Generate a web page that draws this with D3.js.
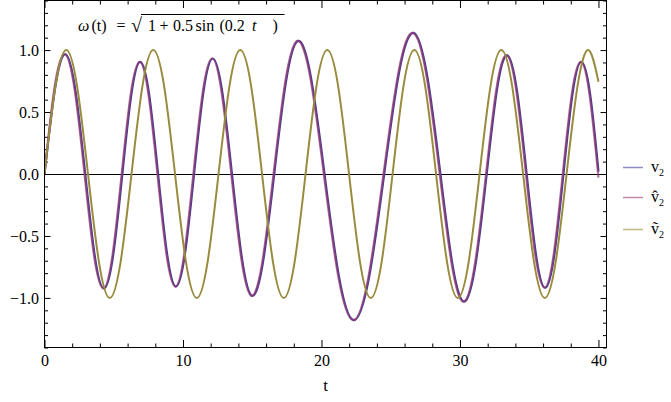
<!DOCTYPE html>
<html><head><meta charset="utf-8">
<script src="https://d3js.org/d3.v7.min.js"></script>
<style>
body{margin:0;background:#fff}
svg{display:block}
text{font-family:"Liberation Serif","DejaVu Serif","Noto Serif","Times New Roman",Times,serif;fill:#000}
</style></head>
<body><svg id="c" width="671" height="402"></svg>
<script>
// ---- data ----
const v2T = [0, 0.767, 1.510, 2.235, 2.941, 3.626, 4.302, 4.968, 5.622, 6.273, 6.918, 7.561, 8.203, 8.846, 9.492, 10.142, 10.799, 11.465, 12.140, 12.830, 13.537, 14.261, 15.003, 15.781, 16.588, 17.429, 18.311, 19.240, 20.220, 21.251, 22.325, 23.425, 24.529, 25.611, 26.653, 27.645, 28.587, 29.480, 30.332, 31.148, 31.931, 32.681, 33.410, 34.122, 34.815, 35.493, 36.162, 36.820, 37.472, 38.119, 38.762, 39.405, 40];
const v2V = [0, 0.694, 0.966, 0.673, 0, -0.658, -0.923, -0.648, 0, 0.642, 0.905, 0.639, 0, -0.640, -0.908, -0.645, 0, 0.653, 0.932, 0.666, 0, -0.684, -0.983, -0.708, 0, 0.740, 1.074, 0.780, 0, -0.820, -1.179, -0.840, 0, 0.824, 1.139, 0.785, 0, -0.745, -1.029, -0.712, 0, 0.687, 0.957, 0.668, 0, -0.655, -0.918, -0.646, 0, 0.640, 0.904, 0.639, 0.02];
const vHatT = [0, 0.717, 1.460, 2.185, 2.891, 3.576, 4.252, 4.918, 5.572, 6.223, 6.868, 7.511, 8.153, 8.796, 9.442, 10.092, 10.749, 11.415, 12.090, 12.780, 13.487, 14.211, 14.953, 15.731, 16.538, 17.379, 18.261, 19.190, 20.170, 21.201, 22.275, 23.375, 24.479, 25.561, 26.603, 27.595, 28.537, 29.430, 30.282, 31.098, 31.881, 32.631, 33.360, 34.072, 34.765, 35.443, 36.112, 36.770, 37.422, 38.069, 38.712, 39.355, 40];
const vHatV = [0, 0.694, 0.966, 0.673, 0, -0.658, -0.923, -0.648, 0, 0.642, 0.905, 0.639, 0, -0.640, -0.908, -0.645, 0, 0.653, 0.932, 0.666, 0, -0.684, -0.983, -0.708, 0, 0.740, 1.074, 0.780, 0, -0.820, -1.179, -0.840, 0, 0.824, 1.139, 0.785, 0, -0.745, -1.029, -0.712, 0, 0.687, 0.957, 0.668, 0, -0.655, -0.918, -0.646, 0, 0.640, 0.904, 0.639, -0.03];
const vTilT = [0, 0.785, 1.571, 2.356, 3.142, 3.927, 4.712, 5.498, 6.283, 7.069, 7.854, 8.639, 9.425, 10.210, 10.996, 11.781, 12.566, 13.352, 14.137, 14.923, 15.708, 16.493, 17.279, 18.064, 18.850, 19.635, 20.420, 21.206, 21.991, 22.777, 23.562, 24.347, 25.133, 25.918, 26.704, 27.489, 28.274, 29.060, 29.845, 30.631, 31.416, 32.201, 32.987, 33.772, 34.558, 35.343, 36.128, 36.914, 37.699, 38.485, 39.270, 40];
const vTilV = [0, 0.707, 1, 0.707, 0, -0.707, -1, -0.707, 0, 0.707, 1, 0.707, 0, -0.707, -1, -0.707, 0, 0.707, 1, 0.707, 0, -0.707, -1, -0.707, 0, 0.707, 1, 0.707, 0, -0.707, -1, -0.707, 0, 0.707, 1, 0.707, 0, -0.707, -1, -0.707, 0, 0.707, 1, 0.707, 0, -0.707, -1, -0.707, 0, 0.707, 1, 0.745];
const xMajor = [0, 10, 20, 30, 40];
const yMajor = [-1.0, -0.5, 0.0, 0.5, 1.0];
const legendLabels = ["v", "v\u0302", "v\u0303"];
const seriesColors = ["#3f3d99", "#993d71", "#998b3d"];

const FONT = '"Liberation Serif","DejaVu Serif","Noto Serif","Times New Roman",Times,serif';

// ---- layout ----
const svg = d3.select("#c");
const x = d3.scaleLinear().domain([0, 40.58]).range([44.5, 606.5]);
const y = d3.scaleLinear().domain([-1.4, 1.4]).range([347.5, 0.5]);
const xMinor = d3.range(0, 40.6, 2).filter(v => v % 10 !== 0);
const yMinor = d3.range(-14, 15).map(v => v / 10).filter(v => Math.abs(v * 10) % 5 !== 0);
const fmt = d3.format(".1f");

function styleAxis(g){
  g.attr("font-family", FONT);
  g.select(".domain").remove();
  g.selectAll("line").attr("stroke","#000");
  g.selectAll("text").attr("font-size",16).attr("fill","#000").style("font-family", FONT);
}

// bottom
svg.append("g").attr("transform","translate(0,347.5)")
  .call(d3.axisBottom(x).tickValues(xMajor).tickSize(-7.5).tickPadding(7.5).tickFormat(d3.format("d"))).call(styleAxis);
svg.append("g").attr("transform","translate(0,347.5)")
  .call(d3.axisBottom(x).tickValues(xMinor).tickSize(-4).tickFormat("")).call(styleAxis);
// top
svg.append("g").attr("transform","translate(0,0.5)")
  .call(d3.axisTop(x).tickValues(xMajor).tickSize(-7.5).tickFormat("")).call(styleAxis);
svg.append("g").attr("transform","translate(0,0.5)")
  .call(d3.axisTop(x).tickValues(xMinor).tickSize(-4).tickFormat("")).call(styleAxis);
// left
svg.append("g").attr("transform","translate(44.5,0)")
  .call(d3.axisLeft(y).tickValues(yMajor).tickSize(-6).tickPadding(5.5).tickFormat(fmt)).call(styleAxis);
svg.append("g").attr("transform","translate(44.5,0)")
  .call(d3.axisLeft(y).tickValues(yMinor).tickSize(-3.5).tickFormat("")).call(styleAxis);
// right
svg.append("g").attr("transform","translate(606.5,0)")
  .call(d3.axisRight(y).tickValues(yMajor).tickSize(-6).tickFormat("")).call(styleAxis);
svg.append("g").attr("transform","translate(606.5,0)")
  .call(d3.axisRight(y).tickValues(yMinor).tickSize(-3.5).tickFormat("")).call(styleAxis);

// zero axis
svg.append("line").attr("x1",x(0)).attr("x2",x(40.58)).attr("y1",Math.round(y(0))+0.5).attr("y2",Math.round(y(0))+0.5)
  .attr("stroke","#000").attr("stroke-width",1);

// curves
svg.append("clipPath").attr("id","clp").append("rect")
  .attr("x",x(0)).attr("y",y(1.4)).attr("width",x(40.58)-x(0)).attr("height",y(-1.4)-y(1.4));
const line = d3.line().x(d => x(d[0])).y(d => y(d[1])).curve(d3.curveNatural);
const series = [d3.zip(v2T, v2V), d3.zip(vHatT, vHatV), d3.zip(vTilT, vTilV)];
const widths = [2.2, 2.2, 2];
const opac = [1, 0.72, 1];
series.forEach((s, i) => {
  svg.append("path").datum(s).attr("d", line).attr("fill","none")
    .attr("stroke", seriesColors[i]).attr("stroke-width", widths[i]).attr("stroke-opacity", opac[i])
    .attr("clip-path","url(#clp)");
});

// frame
svg.append("rect").attr("x",44.5).attr("y",0.5).attr("width",562).attr("height",347)
  .attr("fill","none").attr("stroke","#000").attr("stroke-width",1);

// axis label
svg.append("text").attr("x",(x(0)+x(40.58))/2).attr("y",391).attr("text-anchor","middle").attr("font-size",17).text("t");

// annotation (pieces spaced like the original typesetting)
const ann = svg.append("text").attr("y",31).attr("font-size",16);
const pieces = [
  {s:"ω", x:78, it:true}, {s:"(t)", x:91.5}, {s:"=", x:116.5},
  {s:"√", x:131, fs:20, dy:1}, {s:"1", x:148}, {s:"+", x:159.5},
  {s:"0.5", x:173}, {s:"sin", x:195.5}, {s:"(0.2", x:219.5},
  {s:"t", x:252, it:true}, {s:")", x:272.5}
];
pieces.forEach(p => {
  const ts = ann.append("tspan").attr("x", p.x).text(p.s);
  if (p.it) ts.attr("font-style","italic");
  if (p.fs) ts.attr("font-size", p.fs).attr("dy", p.dy).attr("dy", p.dy);
  else if (p.s === "1") ts.attr("dy", -1);
});
svg.append("line").attr("x1",141).attr("x2",284.5).attr("y1",14.5).attr("y2",14.5)
  .attr("stroke","#000").attr("stroke-width",1);

// legend
const legY = [167.5, 197.5, 229.5];
legendLabels.forEach((lab, i) => {
  svg.append("line").attr("x1",623).attr("x2",643).attr("y1",legY[i]).attr("y2",legY[i])
    .attr("stroke", seriesColors[i]).attr("stroke-opacity",0.6).attr("stroke-width",1.5);
  const tx = svg.append("text").attr("x",651).attr("y",legY[i]+4).attr("font-size",16);
  tx.append("tspan").text(lab);
  tx.append("tspan").attr("font-size",10).attr("dy",4).text("2");
});
</script>
</body></html>
